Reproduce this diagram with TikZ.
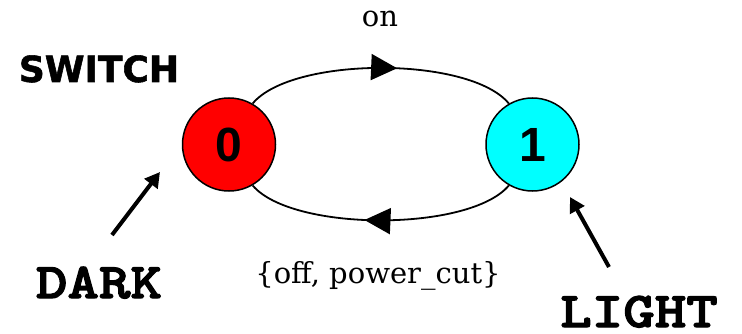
\documentclass[tikz,border=0pt]{standalone}
\usepackage{fontspec}
\setmainfont{DejaVu Serif}
\newfontfamily\titlefont{DejaVu Sans}[BoldFeatures={FakeBold=1.5}]
\newfontfamily\codefont{lmmonolt10-bold.otf}[FakeStretch=1.2,FakeBold=2.5]
\newfontfamily\digitfont{Liberation Sans}
\usetikzlibrary{arrows.meta,decorations.markings}
\definecolor{stred}{RGB}{255,0,0}
\definecolor{stcyan}{RGB}{0,255,255}
\tikzset{
  state/.style={circle,draw=black,line width=1.5pt,minimum size=93pt,inner sep=0pt,
    font=\digitfont\bfseries\fontsize{48}{48}\selectfont},
  trans/.style={line width=1.8pt,postaction={decorate},
    decoration={markings,mark=at position 0.56 with {\arrow{Triangle[length=26pt,width=26pt]}}}},
  pointer/.style={line width=4pt,-{Triangle[length=15pt,width=16pt]}},
  lbl/.style={anchor=base,inner sep=0pt,font=\fontsize{29}{29}\selectfont},
  codelbl/.style={anchor=base,inner sep=0pt,font=\codefont\fontsize{50}{50}\selectfont},
}
\begin{document}
\begin{tikzpicture}[x=1pt,y=-1pt]
\useasboundingbox[fill=white] (0,0) rectangle (742,334);
\node[state,fill=stred] (s0) at (229,144.5) {0};
\node[state,fill=stcyan] (s1) at (532.5,144.5) {1};
\draw[trans] (s0.60) .. controls (292,56) and (470,56) .. (s1.120);
\draw[trans] (s1.-120) .. controls (470,232) and (292,232) .. (s0.-60);
\node[lbl] (on) at (380,27) {on};
\node[lbl] (off) at (378,283) {\{off, power\_cut\}};
\node[anchor=base,inner sep=0pt,font=\titlefont\bfseries\fontsize{36}{36}\selectfont] (sw) at (99,82) {SWITCH};
\node[codelbl] (dark) at (99,298) {DARK};
\node[codelbl] (light) at (639,327) {LIGHT};
\coordinate (dt) at (112,235);
\coordinate (dh) at (160,172);
\coordinate (lt) at (609,267);
\coordinate (lh) at (570,197);
\draw[pointer] (dt) -- (dh);
\draw[pointer] (lt) -- (lh);
\end{tikzpicture}
\end{document}
